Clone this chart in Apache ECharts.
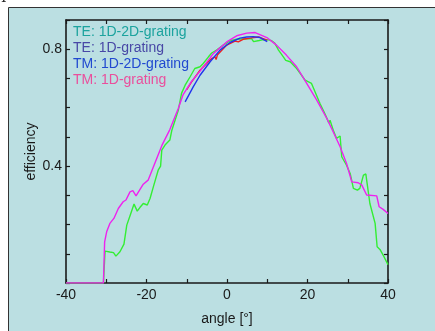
<!DOCTYPE html>
<html>
<head>
<meta charset="utf-8">
<script src="https://cdn.jsdelivr.net/npm/echarts@6/dist/echarts.min.js"></script>
<style>html,body{margin:0;padding:0;background:#fff}#c{width:435px;height:331px}</style>
</head>
<body>
<div id="c"></div>
<script>
const seriesNames = ['TE: 1D-2D-grating', 'TE: 1D-grating', 'TM: 1D-2D-grating', 'TM: 1D-grating'];
const xTickLabels = ['-40', '-20', '0', '20', '40'];
const yTickLabels = ['0.4', '0.8'];

const greenAngle = [-40, -30.7, -30.3, -29.9, -29.1, -28.2, -27.6, -26.6, -25.6, -24.9, -23.9, -23.1, -22.3, -21.6, -20.8, -19.8, -19.1, -18.3, -17.1, -16.5, -16.2, -15.4, -14.2, -13.7, -12.9, -12.1, -11.3, -10.4, -9.2, -8.0, -6.7, -5.9, -4.6, -3.8, -2.6, -0.9, 0.75, 2.4, 4.9, 6.1, 6.6, 8.0, 9.0, 10.3, 11.1, 11.9, 12.8, 14.0, 14.6, 15.7, 17.3, 19.4, 21.0, 23.1, 24.3, 25.0, 25.3, 25.6, 26.4, 27.2, 28.1, 28.5, 29.7, 30.6, 31.4, 32.4, 33.0, 33.9, 34.5, 34.7, 35.5, 36.8, 37.3, 38.0, 39.0, 40];
const greenEff = [0, 0, 0.109, 0.11, 0.106, 0.104, 0.092, 0.107, 0.133, 0.198, 0.238, 0.27, 0.246, 0.259, 0.272, 0.267, 0.29, 0.329, 0.386, 0.40, 0.455, 0.472, 0.489, 0.523, 0.557, 0.591, 0.649, 0.677, 0.705, 0.734, 0.74, 0.751, 0.774, 0.787, 0.797, 0.814, 0.829, 0.834, 0.836, 0.836, 0.826, 0.83, 0.833, 0.832, 0.829, 0.82, 0.797, 0.774, 0.762, 0.757, 0.734, 0.694, 0.683, 0.614, 0.58, 0.558, 0.548, 0.557, 0.523, 0.495, 0.503, 0.432, 0.403, 0.375, 0.324, 0.318, 0.324, 0.369, 0.373, 0.352, 0.272, 0.204, 0.124, 0.115, 0.09, 0.063];

const redAngle = [-10.0, -8.8, -6.7, -4.6, -3.8, -3.0, -2.7, -2.4, -0.07, 2.0, 2.8, 4.0, 6.1, 7.8, 10.0];
const redEff = [0.662, 0.688, 0.728, 0.758, 0.768, 0.774, 0.765, 0.78, 0.814, 0.828, 0.825, 0.834, 0.839, 0.842, 0.831];

const blueAngle = [-10.4, -8.4, -6.7, -4.2, -1.74, 0.75, 3.2, 4.9, 6.5, 8.2, 10.0];
const blueEff = [0.62, 0.671, 0.711, 0.757, 0.797, 0.823, 0.838, 0.842, 0.843, 0.84, 0.826];

const magentaAngle = [-40, -30.7, -30.4, -29.9, -29.1, -28.1, -27.0, -25.8, -25.1, -24.1, -23.4, -22.6, -21.8, -20.8, -19.6, -18.3, -16.2, -14.2, -12.1, -10.9, -8.8, -6.7, -3.4, -0.07, 2.4, 4.9, 7.0, 9.9, 12.3, 14.8, 17.3, 19.8, 22.3, 24.8, 26.4, 28.1, 29.7, 31.0, 32.6, 33.5, 34.7, 37.2, 37.8, 38.8, 40];
const magentaEff = [0, 0, 0.141, 0.175, 0.204, 0.221, 0.255, 0.278, 0.284, 0.312, 0.316, 0.298, 0.316, 0.338, 0.352, 0.397, 0.47, 0.525, 0.597, 0.645, 0.69, 0.725, 0.785, 0.825, 0.846, 0.855, 0.857, 0.84, 0.814, 0.779, 0.74, 0.683, 0.626, 0.563, 0.517, 0.466, 0.409, 0.346, 0.343, 0.335, 0.301, 0.298, 0.261, 0.252, 0.238];

const lineColors = ['#33ee33', '#ee2222', '#2233ee', '#ee22ee'];
const legendColors = ['#1ca39e', '#4848a6', '#2149d0', '#ea4f9c'];

const pairs = (xs, ys) => xs.map((x, i) => [x, ys[i]]);
const allData = [pairs(greenAngle, greenEff), pairs(redAngle, redEff), pairs(blueAngle, blueEff), pairs(magentaAngle, magentaEff)];

const font = 'Liberation Sans, Arial, sans-serif';
const chart = echarts.init(document.getElementById('c'), null, {renderer: 'canvas'});

const axisCommon = {
  type: 'value',
  axisLine: {show: true, onZero: false, lineStyle: {color: '#1a1a1a', width: 1.6}},
  axisTick: {show: true, inside: true, length: 4, lineStyle: {color: '#1a1a1a', width: 1.2}},
  splitLine: {show: false}
};

chart.setOption({
  animation: false,
  backgroundColor: '#ffffff',
  graphic: [
    {type: 'rect', z: -10, shape: {x: 8.5, y: 7.5, width: 440, height: 340}, style: {fill: '#bbdfe2', stroke: '#333', lineWidth: 1}},
    {type: 'text', z: -5, left: 1, top: -9, style: {text: 'I', font: '14px DejaVu Serif', fill: '#222'}}
  ],
  grid: {left: 66, right: 47, top: 20, bottom: 48, containLabel: false},
  legend: {
    orient: 'vertical', left: 68, top: 25, padding: 0, itemGap: 2, itemWidth: 0, itemHeight: 14,
    icon: 'none', selectedMode: false,
    textStyle: {fontFamily: font, fontSize: 14},
    data: seriesNames.map((n, i) => ({name: n, textStyle: {color: legendColors[i]}}))
  },
  xAxis: [
    Object.assign({}, axisCommon, {
      position: 'bottom', min: -40, max: 40, interval: 10,
      name: 'angle [°]', nameLocation: 'middle', nameGap: 29, nameMoveOverlap: false,
      nameTextStyle: {fontFamily: font, fontSize: 14, color: '#1a1a1a'},
      axisLabel: {fontFamily: font, fontSize: 14, color: '#1a1a1a', margin: 5,
        formatter: v => xTickLabels.includes(String(v)) ? String(v) : ''}
    }),
    Object.assign({}, axisCommon, {position: 'top', min: -40, max: 40, interval: 10, axisLabel: {show: false}})
  ],
  yAxis: [
    Object.assign({}, axisCommon, {
      position: 'left', min: 0, max: 0.9, interval: 0.1,
      name: 'efficiency', nameLocation: 'middle', nameGap: 28, nameMoveOverlap: false,
      nameTextStyle: {fontFamily: font, fontSize: 14, color: '#1a1a1a'},
      axisLabel: {fontFamily: font, fontSize: 14, color: '#1a1a1a', margin: 4,
        formatter: v => { const s = (Math.round(v * 10) / 10).toFixed(1); return yTickLabels.includes(s) ? s : ''; }}
    }),
    Object.assign({}, axisCommon, {position: 'right', min: 0, max: 0.9, interval: 0.1, axisLabel: {show: false}})
  ],
  series: seriesNames.map((n, i) => ({
    name: n, type: 'line', data: allData[i], showSymbol: false, symbol: 'none',
    xAxisIndex: 0, yAxisIndex: 0,
    lineStyle: {color: lineColors[i], width: 1.4},
    itemStyle: {color: lineColors[i]},
    z: 2 + i
  }))
});
</script>
</body>
</html>
